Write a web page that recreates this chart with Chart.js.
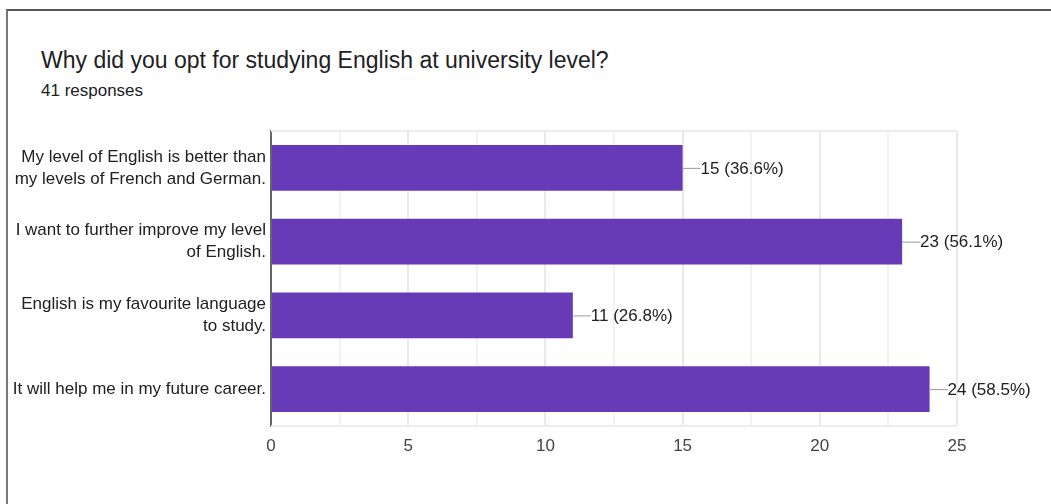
<!DOCTYPE html>
<html>
<head>
<meta charset="utf-8">
<script src="https://cdn.jsdelivr.net/npm/chart.js@4"></script>
<style>
  html, body { margin: 0; padding: 0; background: #fff; }
  body { width: 1051px; height: 504px; overflow: hidden; position: relative; font-family: "Liberation Sans", Arial, sans-serif; }
  .frame { position: absolute; left: 6px; top: 9px; width: 1100px; height: 600px; border-top: 2px solid #555; border-left: 2px solid #777; }
  .title { position: absolute; left: 41px; top: 47px; font-size: 23px; color: #202124; }
  .sub { position: absolute; left: 41px; top: 81px; font-size: 17px; color: #202124; }
  #wrap { position: absolute; left: 0; top: 110px; width: 1051px; height: 394px; }
</style>
</head>
<body>
<div class="frame"></div>
<div class="title">Why did you opt for studying English at university level?</div>
<div class="sub">41 responses</div>
<div id="wrap"><canvas id="chart"></canvas></div>
<script>
// Data
const answers = [
  ['My level of English is better than', 'my levels of French and German.'],
  ['I want to further improve my level', 'of English.'],
  ['English is my favourite language', 'to study.'],
  'It will help me in my future career.'
];
const counts = [15, 23, 11, 24];
const totalResponses = 41;
const xTicks = [0, 5, 10, 15, 20, 25];

// value labels with a small leader line, like the forms summary
const valueLabels = {
  id: 'valueLabels',
  afterDatasetsDraw(chart) {
    const ctx = chart.ctx;
    const meta = chart.getDatasetMeta(0);
    ctx.save();
    ctx.font = '17px "Liberation Sans", Arial, sans-serif';
    ctx.textBaseline = 'middle';
    meta.data.forEach((bar, i) => {
      const v = counts[i];
      const pct = (v / totalResponses * 100).toFixed(1);
      ctx.strokeStyle = '#999';
      ctx.lineWidth = 1;
      ctx.beginPath();
      ctx.moveTo(bar.x, bar.y + 0.5);
      ctx.lineTo(bar.x + 18, bar.y + 0.5);
      ctx.stroke();
      ctx.fillStyle = '#202124';
      ctx.fillText(v + ' (' + pct + '%)', bar.x + 18, bar.y + 1);
    });
    ctx.restore();
  }
};

// top and bottom edges of the plot box
const plotEdges = {
  id: 'plotEdges',
  beforeDatasetsDraw(chart) {
    const { ctx, chartArea: a } = chart;
    ctx.save();
    ctx.strokeStyle = '#ececec';
    ctx.lineWidth = 2;
    ctx.beginPath();
    ctx.moveTo(a.left, a.top);
    ctx.lineTo(a.right, a.top);
    ctx.moveTo(a.left, a.bottom);
    ctx.lineTo(a.right, a.bottom);
    ctx.stroke();
    ctx.restore();
  }
};

!function(){
  const ctx = document.getElementById('chart');

  new Chart(ctx, {
    type: 'bar',
    data: {
      labels: answers,
      datasets: [{
        data: counts,
        backgroundColor: '#673ab7',
        borderWidth: 0,
        categoryPercentage: 0.62,
        barPercentage: 1
      }]
    },
    plugins: [plotEdges, valueLabels],
    options: {
      indexAxis: 'y',
      responsive: true,
      maintainAspectRatio: false,
      animation: false,
      layout: {
        padding: { top: 21, right: 94, bottom: 38, left: 0 }
      },
      scales: {
        x: {
          min: 0,
          max: 25,
          afterFit(scale) { scale.height = 40; },
          afterBuildTicks(scale) {
            const t = [];
            for (let v = 0; v <= 25; v += 2.5) t.push({ value: v });
            scale.ticks = t;
          },
          ticks: {
            autoSkip: false,
            maxRotation: 0,
            padding: 10,
            color: '#444',
            font: { size: 17, family: '"Liberation Sans", Arial, sans-serif' },
            callback: (v) => xTicks.includes(v) ? String(v) : ''
          },
          grid: {
            drawTicks: false,
            lineWidth: 2,
            color: (c) => xTicks.includes(c.tick && c.tick.value) ? '#e9e9e9' : '#f2f2f2'
          },
          border: { display: false }
        },
        y: {
          afterFit(scale) { scale.width = 271; },
          ticks: {
            padding: 5,
            color: '#202124',
            font: { size: 17, family: '"Liberation Sans", Arial, sans-serif', lineHeight: 1.3 }
          },
          grid: { display: false, drawTicks: false },
          border: { display: true, color: '#666', width: 2 }
        }
      },
      plugins: {
        legend: { display: false },
        tooltip: { enabled: false }
      }
    }
  });
}();
</script>
</body>
</html>
